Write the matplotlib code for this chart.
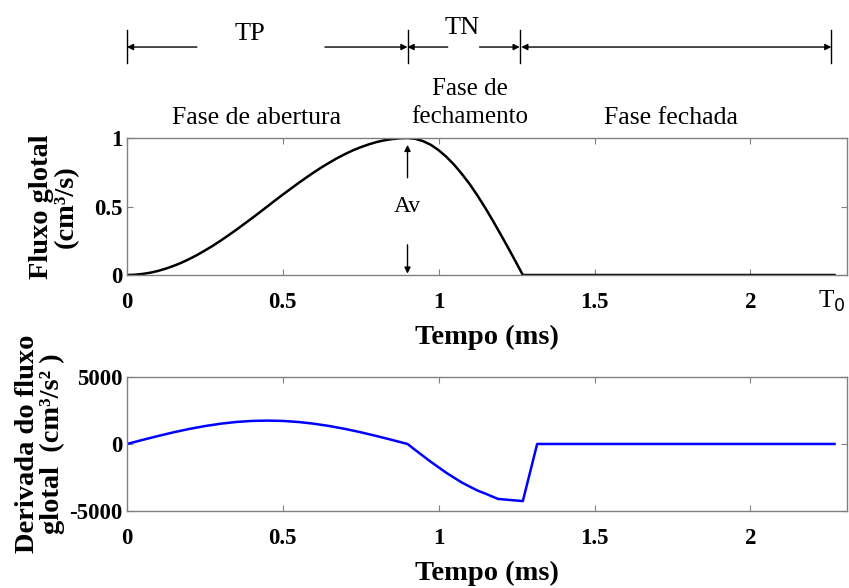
import numpy as np
import matplotlib.pyplot as plt

plt.rcParams['font.family'] = ['Liberation Serif', 'DejaVu Serif']
plt.rcParams['mathtext.fontset'] = 'dejavusans'

# glottal flow, time in ms
t_flow = [0, 0.025, 0.05, 0.075, 0.1, 0.125, 0.15, 0.175, 0.2, 0.225, 0.25,
          0.275, 0.3, 0.325, 0.35, 0.375, 0.4, 0.425, 0.45, 0.475, 0.5,
          0.525, 0.55, 0.575, 0.6, 0.625, 0.65, 0.675, 0.7, 0.725, 0.75,
          0.775, 0.8, 0.825, 0.85, 0.875, 0.9, 0.925, 0.95, 0.975, 1.0,
          1.025, 1.05, 1.075, 1.1, 1.125, 1.15, 1.175, 1.2, 1.225, 1.25,
          1.27, 2.27]
flow = [0, 0.002, 0.008, 0.017, 0.03, 0.047, 0.067, 0.09, 0.117, 0.146,
        0.179, 0.213, 0.25, 0.289, 0.329, 0.371, 0.413, 0.456, 0.5, 0.544,
        0.587, 0.629, 0.671, 0.711, 0.75, 0.787, 0.821, 0.854, 0.883, 0.91,
        0.933, 0.953, 0.97, 0.983, 0.992, 0.998, 1.0, 0.994, 0.977, 0.95,
        0.911, 0.862, 0.804, 0.736, 0.662, 0.578, 0.488, 0.392, 0.292, 0.19,
        0.085, 0, 0]

# flow derivative (cm^3/s^2)
t_deriv = [0, 0.05, 0.1, 0.15, 0.2, 0.25, 0.3, 0.35, 0.4, 0.45, 0.5, 0.55,
           0.6, 0.65, 0.7, 0.75, 0.8, 0.85, 0.9, 0.925, 0.95, 0.975, 1.0,
           1.025, 1.05, 1.075, 1.1, 1.125, 1.15, 1.19, 1.27, 1.316, 2.27]
deriv = [0, 303, 597, 873, 1122, 1337, 1511, 1640, 1719, 1745, 1719, 1640,
         1511, 1337, 1122, 873, 597, 303, 0, -452, -896, -1335, -1748, -2158,
         -2525, -2887, -3188, -3480, -3706, -4100, -4264, 0, 0]

x_ticks = [0, 0.5, 1, 1.5, 2]
x_tick_labels = ['0', '0.5', '1', '1.5', '2']

# phase boundaries: start, TP, TP+TN, T0
phase_marks = [0, 0.9, 1.26, 2.26]

fig = plt.figure(figsize=(8.49, 5.88), dpi=100)
ax1 = fig.add_axes([0.1496, 0.5323, 0.848, 0.2330])
ax2 = fig.add_axes([0.1496, 0.131, 0.848, 0.2279])

def style(ax):
    for s in ax.spines.values():
        s.set_color('#808080')
        s.set_linewidth(1.0)
    ax.tick_params(direction='in', length=4, color='#808080', top=True,
                   right=True, labelsize=16.5)
    ax.tick_params(axis='x', pad=12)
    ax.tick_params(axis='y', pad=3)
    for lab in ax.get_xticklabels() + ax.get_yticklabels():
        lab.set_fontweight('bold')
    ax.set_xlim(0, 2.31)

# --- top: glottal flow
ax1.plot(t_flow, flow, color='black', lw=1.8)
ax1.set_ylim(0, 1)
ax1.set_xticks(x_ticks, x_tick_labels)
ax1.set_yticks([0, 0.5, 1], ['0', '0.5', '1'])
style(ax1)
ax1.set_xlabel('Tempo (ms)', fontsize=20.5, fontweight='bold', labelpad=9)
ax1.set_ylabel('Fluxo glotal\n(cm³/s)', fontsize=20.5, fontweight='bold',
               linespacing=1.02, labelpad=11)
ax1.text(2.304, -0.19, 'T$_{\\rm 0}$', fontsize=18, ha='right', va='center')

# Av arrows
tp = phase_marks[1]
ax1.text(tp, 0.50, 'Av', fontsize=17, ha='center', va='center')
arr = dict(arrowstyle='-|>', color='black', lw=1, mutation_scale=9,
           shrinkA=0, shrinkB=0)
ax1.annotate('', xy=(tp, 0.95), xytext=(tp, 0.71), arrowprops=arr)
ax1.annotate('', xy=(tp, 0.01), xytext=(tp, 0.22), arrowprops=arr)

# phase markers above the plot
y_arr = 1.664
for xm in phase_marks:
    ax1.plot([xm, xm], [1.547, 1.788], color='black', lw=1, clip_on=False)
for x0, x1 in [(0.224, phase_marks[0]), (0.635, phase_marks[1]),
               (1.029, phase_marks[1]), (1.131, phase_marks[2])]:
    ax1.annotate('', xy=(x1, y_arr), xytext=(x0, y_arr), arrowprops=arr,
                 annotation_clip=False)
ax1.annotate('', xy=(phase_marks[3], y_arr), xytext=(phase_marks[2] + 0.005, y_arr),
             arrowprops=dict(arrowstyle='<|-|>', color='black', lw=1,
                             mutation_scale=9, shrinkA=0, shrinkB=0),
             annotation_clip=False)
ax1.text(0.394, 1.76, 'TP', fontsize=19, ha='center', va='center')
ax1.text(1.074, 1.80, 'TN', fontsize=19, ha='center', va='center')
ax1.text(0.417, 1.146, 'Fase de abertura', fontsize=18.5, ha='center', va='center')
ax1.text(1.10, 1.255, 'Fase de\nfechamento', fontsize=18, ha='center',
         va='center', linespacing=1.4)
ax1.text(1.747, 1.146, 'Fase fechada', fontsize=18.5, ha='center', va='center')

# --- bottom: derivative
ax2.plot(t_deriv, deriv, color='#0000ff', lw=1.8)
ax2.set_ylim(-5000, 5000)
ax2.set_xticks(x_ticks, x_tick_labels)
ax2.set_yticks([-5000, 0, 5000], ['-5000', '0', '5000'])
style(ax2)
ax2.set_xlabel('Tempo (ms)', fontsize=20.5, fontweight='bold', labelpad=9)
ax2.set_ylabel('Derivada do fluxo\nglotal  (cm³/s² )', fontsize=20.5,
               fontweight='bold', linespacing=1.02, labelpad=3)

fig.savefig('out.png', dpi=100)
